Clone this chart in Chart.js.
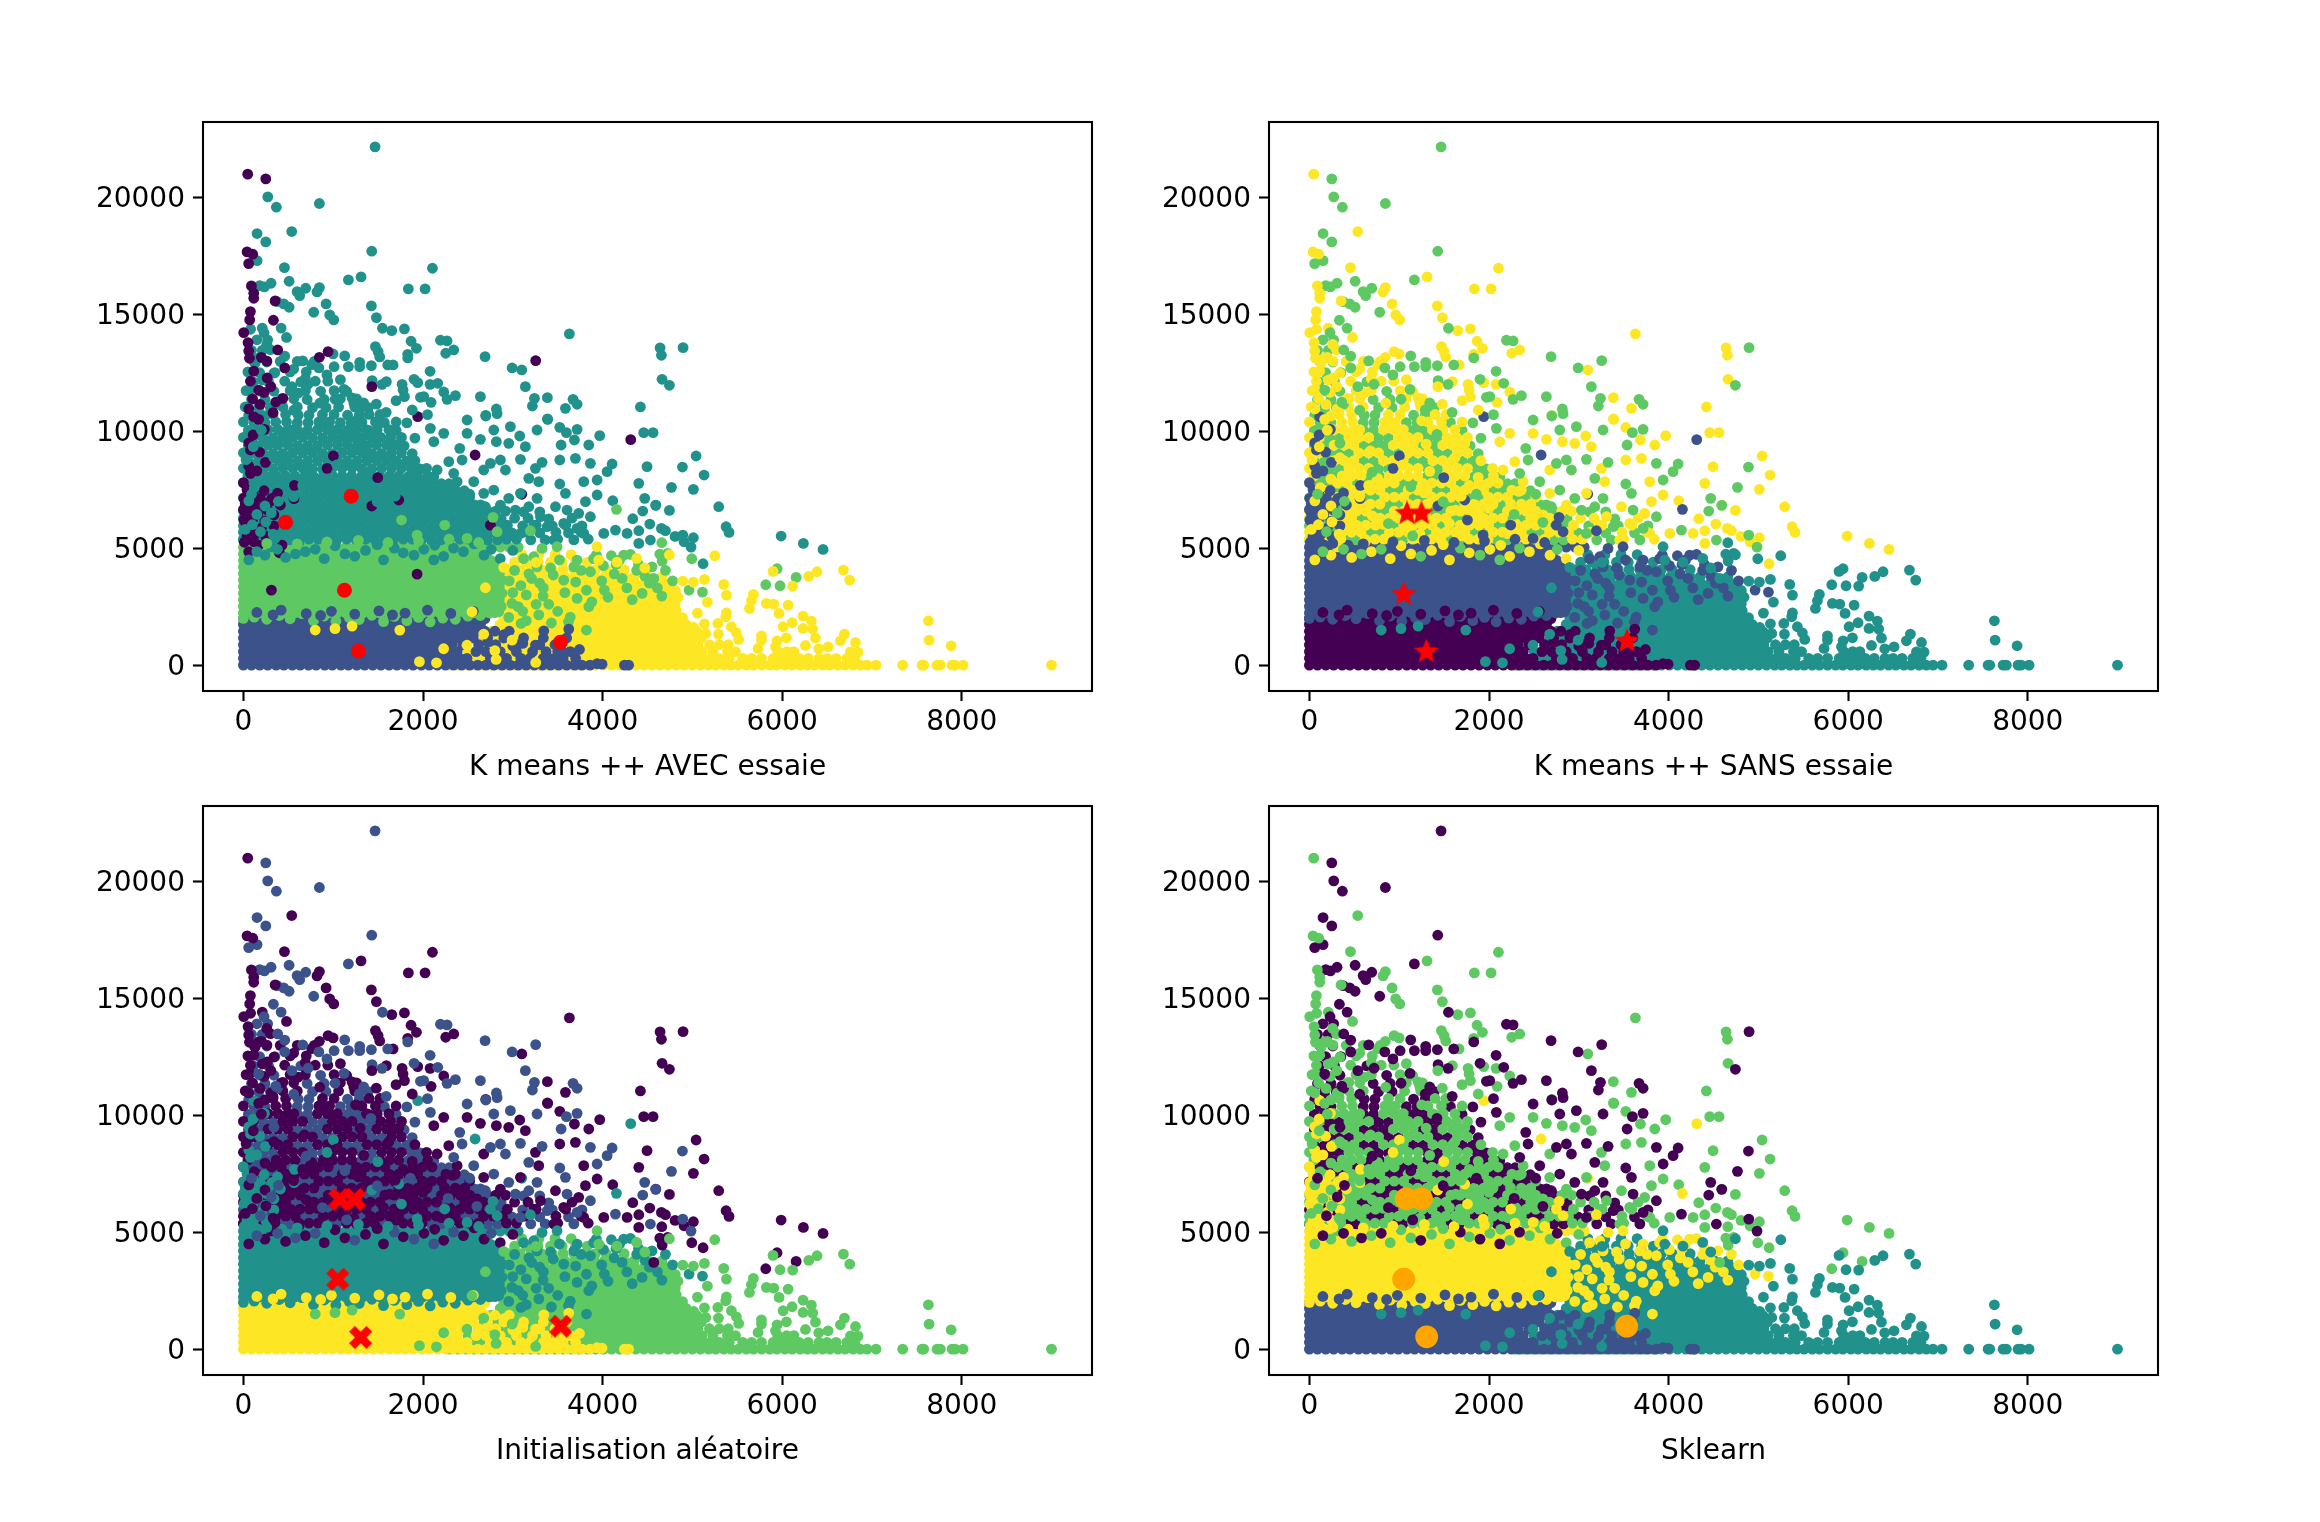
<!DOCTYPE html>
<html>
<head>
<meta charset="utf-8">
<title>K means</title>
<script src="https://cdn.jsdelivr.net/npm/chart.js@4"></script>
<style>
  body { margin: 0; background: #fff; }
  canvas { position: absolute; }
</style>
</head>
<body>
<canvas id="p0" width="1010" height="691" style="left:90px;top:100px"></canvas>
<canvas id="p1" width="1010" height="691" style="left:1156px;top:100px"></canvas>
<canvas id="p2" width="1010" height="691" style="left:90px;top:784px"></canvas>
<canvas id="p3" width="1010" height="691" style="left:1156px;top:784px"></canvas>
<script>
const xTicks = [0, 2000, 4000, 6000, 8000];
const yTicks = [0, 5000, 10000, 15000, 20000];
const titles = ['K means ++ AVEC essaie', 'K means ++ SANS essaie', 'Initialisation aléatoire', 'Sklearn'];

// centres, one list per panel
const centers0 = [[1280, 600], [1125, 3200], [470, 6100], [1200, 7220], [3530, 980]];
const centers1 = [[1303, 570], [1050, 3020], [1087, 6480], [1247, 6480], [3537, 1025]];
const centers2 = [[1306, 500], [1050, 2990], [1073, 6400], [1236, 6400], [3534, 983]];
const centers3 = [[1306, 527], [1050, 2990], [1078, 6424], [1248, 6424], [3534, 983]];

// dense bands, read as rows: [y, [x, x, ...]]
const lowRows = [
  [0, [0,90,182,270,365,450,545,632,725,810,905,990,1085,1170,1262,1350,1440,1530,1622,1710,1800,1890,1982,2070,2160,2250,2340,2430,2520,2610,2700,2790,2880,2970,3060,3150,3240,3330,3420,3510,3600,3690,3770,3860]],
  [290, [0,44,135,226,318,408,498,590,680,770,860,950,1040,1130,1220,1310,1400,1490,1580,1670,1760,1850,1940,2030,2120,2210,2300,2410,2490,2750,2930,3090,3190,3340,3470,3560,3700]],
  [580, [0,90,180,272,362,454,544,636,726,818,908,1000,1090,1180,1272,1362,1454,1544,1636,1726,1818,1908,2000,2090,2180,2270,2380,2590,2700,2860,3040,3220,3370,3500,3640]],
  [870, [0,46,136,228,318,410,500,592,682,774,864,956,1046,1138,1228,1320,1410,1502,1592,1684,1774,1866,1956,2048,2138,2230,2320,2440,2620,2810,3050,3300,3470]],
  [1160, [0,92,182,274,364,456,546,638,728,820,910,1002,1092,1184,1274,1366,1456,1548,1638,1730,1820,1912,2002,2094,2184,2276,2366,2460,2560,2720,2900,3120,3340,3600]],
  [1450, [0,46,138,228,320,410,502,592,684,774,866,956,1048,1138,1230,1320,1412,1502,1594,1684,1776,1866,1958,2048,2140,2230,2322,2412,2504,2594,2690,2800,2960]],
  [1740, [0,92,182,274,364,456,546,638,728,820,910,1002,1092,1184,1274,1366,1456,1548,1638,1730,1820,1912,2002,2094,2184,2276,2366,2458,2548,2640]],
  [1990, [0,46,138,228,320,410,502,592,684,774,866,956,1048,1138,1230,1320,1412,1502,1594,1684,1776,1866,1958,2048,2140,2230,2322,2412,2504,2594,2690]]
];
const lowScatter = [[3345,1468],[3623,1539],[3252,855],[3111,926],[3742,670],[3994,43],[3938,60],[4243,0],[4290,0],[3400,300],[3560,560],[2900,1300],[3000,820],[2720,980],[150,2250],[420,2350],[700,2200],[980,2300],[1240,2180],[1510,2320],[1800,2220],[2050,2350],[2310,2210],[2560,2300],[330,2150],[860,2120],[1660,2150]];

const midRows = [
  [2230, [0,95,190,286,380,476,570,666,760,856,950,1046,1140,1236,1330,1426,1520,1616,1710,1806,1900,1996,2090,2186,2280,2376,2470,2566,2660,2740]],
  [2510, [0,46,142,236,332,426,522,616,712,806,902,996,1092,1186,1282,1376,1472,1566,1662,1756,1852,1946,2042,2136,2232,2326,2422,2516,2612,2706,2800,2870]],
  [2790, [0,95,190,286,380,476,570,666,760,856,950,1046,1140,1236,1330,1426,1520,1616,1710,1806,1900,1996,2090,2186,2280,2376,2470,2566,2660,2756,2850]],
  [3070, [0,46,142,236,332,426,522,616,712,806,902,996,1092,1186,1282,1376,1472,1566,1662,1756,1852,1946,2042,2136,2232,2326,2422,2516,2612,2706,2800,2880]],
  [3350, [0,95,190,286,380,476,570,666,760,856,950,1046,1140,1236,1330,1426,1520,1616,1710,1806,1900,1996,2090,2186,2280,2376,2470,2566,2660,2756,2850]],
  [3630, [0,46,142,236,332,426,522,616,712,806,902,996,1092,1186,1282,1376,1472,1566,1662,1756,1852,1946,2042,2136,2232,2326,2422,2516,2612,2706,2800,2880]],
  [3910, [0,95,190,286,380,476,570,666,760,856,950,1046,1140,1236,1330,1426,1520,1616,1710,1806,1900,1996,2090,2186,2280,2376,2470,2566,2660,2756,2850]],
  [4190, [0,46,142,236,332,426,522,616,712,806,902,996,1092,1186,1282,1376,1472,1566,1662,1756,1852,1946,2042,2136,2232,2326,2422,2516,2612,2706,2800]],
  [4470, [0,95,190,286,380,476,570,666,760,856,950,1046,1140,1236,1330,1426,1520,1616,1710,1806,1900,1996,2090,2186,2280,2376,2470,2566,2660,2756]],
  [4750, [0,46,142,236,332,426,522,616,712,806,902,996,1092,1186,1282,1376,1472,1566,1662,1756,1852,1946,2042,2136,2232,2326,2422,2516,2612,2706]],
  [5040, [0,95,190,286,380,476,570,666,760,856,950,1046,1140,1236,1330,1426,1520,1616,1710,1806,1900,1996,2090,2186,2280,2376,2470,2566,2660,2760,2860,2960,3060]]
];
// scalloped rims of the middle band and its stray dots
const midScatter = [[0,2000],[120,2050],[260,1960],[400,2120],[520,1980],[650,2200],[780,1900],[900,2100],[1030,1880],[1180,2030],[1290,1950],[1430,2130],[1560,1860],[1680,2080],[1820,1900],[1950,2040],[2080,1850],[2220,2010],[2360,1960],[2500,2090],[2640,2120],[2800,2240],[260,5200],[600,5180],[930,5260],[1280,5330],[1610,5240],[1950,5300],[2290,5380],[2620,5240],[3337,2950],[3846,2494],[3716,2850],[4020,3206],[4098,4674],[4235,4703],[4310,4731],[3092,1781],[2955,2038],[2843,2280],[2669,2394],[3233,4631],[3567,3634],[3716,4489],[3864,3990],[4217,3705],[4440,3064],[3326,4988],[3493,5059],[1760,6199],[2242,5985],[2780,6313],[3196,5743],[4154,6655],[2825,5700],[2491,5415],[1934,5557],[4963,3206],[5112,3121],[3090,3400],[3180,3900],[3500,2300],[4010,4250],[4520,3500],[4660,2950],[3000,3100],[3300,3500],[3420,4150],[3680,4200],[3900,4550],[4150,4300],[4380,4050],[3260,2600],[2990,2640],[2960,3600],[3020,4050],[3110,2300],[3150,3000],[3210,3700],[3270,4200],[3340,3300],[3400,2600],[3450,3850],[3520,4500],[3580,3100],[3640,2050],[3700,3550],[3760,4050],[3820,3200],[3880,2700],[3930,4700],[3990,3600],[4060,2900],[4130,3900],[4190,4500],[4270,3300],[4330,2800],[4400,4300],[4470,3800],[4550,4200],[4610,3300],[4700,4050],[4780,3600],[3060,2500],[3150,1900],[3290,2150],[3430,1800],[3120,4550],[3620,1850],[3820,1500]];

const rightRows = [
  [0, [2300,2390,2480,2570,2660,2750,2840,2930,3020,3110,3200,3290,3380,3470,3560,3650,3740,3830,3920,4010,4100,4190,4280,4370,4460,4550,4640,4730,4820,4910,5000,5090,5180,5260,5350,5430,5510,5600,5680,5770,5860,5940,6030,6110,6200,6280,6360,6450,6530,6620,6700,6790,6870,6945,7045,7342,7558,7576,7725,7761,7892,7925,8014,8999]],
  [290, [2400,2490,2580,2670,2760,2850,2940,3030,3120,3210,3300,3390,3480,3570,3660,3750,3840,3930,4020,4110,4200,4290,4380,4470,4560,4650,4740,4830,4920,5010,5100,5200,5300,5410,5560,5660,5770,5900,6000,6090,6190,6290,6410,6500,6600,6720,6810]],
  [580, [2500,2590,2680,2770,2860,2950,3040,3130,3220,3310,3400,3490,3580,3670,3760,3850,3940,4030,4120,4210,4300,4390,4480,4570,4660,4750,4840,4930,5020,5110,5230,5390,5480,5950,6050,6130]],
  [870, [2620,2710,2800,2890,2980,3070,3160,3250,3340,3430,3520,3610,3700,3790,3880,3970,4060,4150,4240,4330,4420,4510,4600,4690,4780,4870,4960,5060,5190,5300,5400]],
  [1160, [2680,2770,2860,2950,3040,3130,3220,3310,3400,3490,3580,3670,3760,3850,3940,4030,4120,4210,4300,4390,4480,4570,4660,4750,4840,4930,5020,5100]],
  [1450, [2760,2850,2940,3030,3120,3210,3300,3390,3480,3570,3660,3750,3840,3930,4020,4110,4200,4290,4380,4470,4560,4650,4740,4830,4920,5000]],
  [1740, [2860,2950,3040,3130,3220,3310,3400,3490,3580,3670,3760,3850,3940,4030,4120,4210,4300,4390,4480,4570,4660,4750,4840,4930]],
  [2030, [2900,2990,3100,3190,3280,3370,3460,3550,3640,3730,3820,3910,4000,4090,4180,4270,4360,4450,4540,4630,4720,4810,4890]],
  [2320, [2950,3060,3160,3250,3340,3440,3550,3650,3740,3830,3920,4010,4100,4190,4280,4370,4460,4550,4640,4730,4820]],
  [2610, [2920,3020,3120,3220,3320,3420,3520,3620,3720,3820,3910,4000,4090,4180,4270,4360,4450,4540,4630,4720,4810]],
  [2900, [2960,3060,3160,3260,3360,3460,3560,3660,3760,3860,3950,4040,4130,4220,4310,4400,4490,4580,4670,4760,4840]],
  [3190, [2920,3020,3120,3220,3320,3420,3520,3620,3720,3820,3920,4020,4120,4220,4320,4420,4520,4620,4720,4810]],
  [3480, [2960,3060,3160,3260,3360,3460,3560,3660,3760,3860,3960,4060,4160,4260,4360,4460,4560,4660,4740]],
  [3770, [2920,3030,3140,3250,3360,3470,3580,3690,3800,3910,4020,4130,4240,4350,4510,4660]],
  [4080, [2960,3080,3200,3320,3440,3560,3680,3800,3920,4040,4240]],
  [4400, [3020,3150,3280,3420,3550,3700,3830,3970]],
  [4720, [3100,3290,3470,3650]]
];
const rightScatter = [[7628,1895],[7636,1069],[7881,827],[6845,556],[6760,570],[6816,969],[6693,1325],[6648,1040],[6511,784],[6407,698],[6259,841],[6370,1154],[6232,1567],[6340,1539],[6325,1881],[6232,2095],[6110,1810],[6010,1639],[6047,1168],[5943,1040],[5925,784],[5769,1254],[5769,1069],[5731,712],[5434,1639],[5490,1382],[5516,1097],[5290,1325],[5149,1354],[5052,1425],[5015,1610],[5134,1767],[5283,1781],[5379,2235],[5371,2066],[5056,2223],[5167,2693],[5379,2992],[5349,3448],[5134,3662],[5011,3548],[4893,3591],[5679,3021],[5657,2750],[5635,2422],[5824,2636],[5906,2607],[6066,2565],[5965,2209],[6117,3377],[6296,3790],[6388,3990],[6682,4061],[6752,3634],[5898,4004],[5249,4674],[4744,4717],[2814,242],[3255,114],[2992,1069],[2676,1325],[1741,1496],[1210,1667],[2546,2280],[2695,3306],[2899,4175],[3259,4389],[3938,5059],[3957,4489],[1960,150],[2150,100],[1020,1560],[800,1500],[2230,700],[2490,850],[2800,620],[4160,4400],[4470,4150],[4380,4560]];
const purpleGreen = [[5943,4118],[6155,3748],[5817,3434],[4993,4546],[4659,5230],[4637,4745],[4663,4446],[4725,4774],[4570,3705]];
const greenTeal = [[5976,3391]];

// upper cloud, two families mixed in runs along each row
const upperRowsA = [
  [5350, [0,100,410,520,940,1040,1570,1670,2090,2200,2720,2830,3200,3360,3680]],
  [5650, [50,155,260,680,785,1205,1310,1835,1940,2465,2570,2990,3300,3620]],
  [5950, [0,105,210,315,840,945,1470,1575,2100,2205,2730,2835,3110,3440,3770]],
  [6250, [50,155,575,680,1100,1205,1625,1730,2255,2360,2780,2870,3400]],
  [6550, [105,210,315,735,840,1365,1470,1995,2100,2625,2730,3120,3300]],
  [6850, [155,260,365,890,995,1520,1625,2150,2255,2570,2640]],
  [7150, [0,105,630,735,1155,1260,1785,1890,2310,2415]],
  [7450, [50,260,365,890,995,1415,1520,2045,2150,2460]],
  [7750, [105,210,525,630,1050,1155,1680,1785,2205,2290]],
  [8050, [155,260,680,785,1310,1415,1835,1940,2120]],
  [8380, [110,220,330,770,880,1320,1430,1870,1970]],
  [8710, [55,165,605,715,1155,1265,1705,1815]],
  [9040, [220,330,440,880,990,1430,1540,1880]],
  [9370, [55,165,605,715,825,1265,1375,1790]],
  [9700, [220,330,770,880,1320,1430,1910]],
  [10030, [55,165,605,715,1155,1265,1700]],
  [10360, [120,240,600,720,1080,1200,1570]],
  [10680, [60,200,610,730,1160,1290]],
  [11000, [170,300,770,920,1390]],
  [11350, [90,240,710,900]],
  [11700, [190,340,860]],
  [12100, [110,280,640]],
  [12500, [180,350]],
  [12950, [120,260]],
  [13450, [90,210]],
  [13900, [150,270]]
];
const upperRowsD = [
  [5380, [0,200,310,620,730,830,1150,1250,1360,1460,1780,1880,1990,2300,2410,2510,2620,2930,3040,3500,3840]],
  [5680, [0,365,470,575,890,995,1100,1415,1520,1625,1730,2045,2150,2255,2360,2675,2780,2885,3130,3480,3760]],
  [5980, [420,525,630,735,1050,1155,1260,1365,1680,1785,1890,1995,2310,2415,2520,2625,2940,3260,3590]],
  [6280, [0,260,365,470,785,890,995,1310,1415,1520,1835,1940,2045,2150,2465,2570,2675,3020,3170,3660]],
  [6580, [0,420,525,630,945,1050,1155,1260,1575,1680,1785,1890,2205,2310,2415,2520,2810,2920]],
  [6880, [50,470,575,680,785,1100,1205,1310,1415,1730,1835,1940,2045,2360,2465]],
  [7180, [210,315,420,525,840,945,1050,1365,1470,1575,1680,1995,2100,2205,2520]],
  [7480, [155,470,575,680,785,1100,1205,1310,1625,1730,1835,1940,2255,2360]],
  [7780, [0,315,420,735,840,945,1260,1365,1470,1575,1890,1995,2100]],
  [8080, [50,365,470,575,890,995,1100,1205,1520,1625,1730,2050]],
  [8410, [0,440,550,660,990,1100,1210,1540,1650,1760,2040]],
  [8740, [275,385,495,825,935,1045,1375,1485,1595,1910]],
  [9070, [0,110,550,660,770,1100,1210,1320,1650,1760]],
  [9400, [275,385,495,935,1045,1155,1485,1595,1690]],
  [9730, [0,110,440,550,660,990,1100,1210,1530,1640,1760]],
  [10060, [275,385,495,825,935,1045,1370,1490,1620]],
  [10390, [0,360,480,840,960,1320,1470,1700]],
  [10710, [330,470,880,1010,1400,1520]],
  [11030, [20,440,600,1060,1240]],
  [11380, [420,560,1080,1260]],
  [11730, [30,520,690,1010]],
  [12130, [460,800,940]],
  [12530, [50,520,700]],
  [12980, [410,600]],
  [13480, [300]]
];
const upperDots = [[1466,22145],[271,20007],[367,19565],[846,19722],[152,18440],[249,18083],[152,17285],[1429,17684],[509,16402],[1169,16459],[182,16217],[234,16160],[308,16316],[694,16102],[598,15960],[627,15789],[375,15533],[449,15433],[509,15290],[783,15077],[1548,14393],[2194,13880],[2268,13851],[2691,13181],[2992,12697],[3140,11899],[3241,11400],[3218,11072],[3671,11357],[3716,11144],[2639,11471],[2817,10944],[2825,10745],[1128,13210],[1295,12939],[1295,12754],[1169,12754],[1425,12797],[1607,12825],[2079,12554],[1900,12212],[2164,12041],[2268,11357],[2361,11514],[1971,11443],[2008,11471],[1433,12155],[1544,11998],[1830,13124],[4889,8464],[4767,7595],[4893,5557],[4985,5044],[4592,6826],[2082,10118],[2409,9263],[2491,10474],[2699,10645],[2788,10046],[2973,10189],[3270,10046],[3597,9932],[3716,10075],[3538,9405],[4469,7125],[4447,6584],[3939,7909],[4050,8265],[4106,8593],[3523,7738],[3864,8621],[3326,8664],[3085,8792],[2751,8621],[2862,8764],[2918,8336],[2342,8194],[2435,8764],[2565,7838],[3178,7980],[3586,7339],[3270,7125],[2955,7125],[2788,7481],[2695,6769],[3029,6626],[3178,6769],[3604,6626],[3864,6341],[3382,5914],[3716,5843],[3085,5629],[4143,5771],[4532,5344],[340,9480],[700,8250],[1130,7620],[1490,6980],[1860,7300],[2280,6440],[880,6050],[1420,9860],[560,10890],[1020,11360],[2520,7300],[2600,6100],[1150,5520],[150,4850],[380,4950],[800,4950],[1240,4650],[1680,5000],[1900,4700],[2340,5000],[2760,4950],[580,4750],[2120,4500],[190,5700],[310,6500],[90,7300],[390,7000],[540,11900],[380,11150],[720,12000],[930,12400],[1120,11780],[1340,11200],[1590,10800],[1820,10350],[2050,10700],[1290,10900],[460,13200],[840,12700],[660,13000],[1010,12750],[230,14200],[420,14400]];
const upperDots2 = [[538,18525],[457,16986],[1310,16587],[2105,16957],[1837,16074],[2023,16074],[846,16131],[820,15946],[921,15433],[961,14962],[1006,14749],[1425,15347],[1481,14848],[1652,14293],[1793,14364],[3630,14150],[2342,13466],[2253,13324],[1867,13837],[1927,13537],[1830,13281],[1470,13609],[1500,13395],[1518,13167],[3100,12611],[3385,11429],[3586,10972],[4421,11030],[2699,10673],[3385,10516],[999,13295],[1667,12825],[1592,12112],[1941,12070],[2079,11998],[2231,11671],[2090,11229],[1767,11998],[1778,11756],[1793,11471],[4640,13552],[4655,13238],[4662,12212],[4562,9932],[5041,8935],[5130,8122],[5011,7510],[5293,6769],[5375,5914],[5408,5671],[5988,5515],[6236,5201],[6455,4945],[5119,4332],[4655,5842],[4700,5743],[4807,5500],[5011,5444],[4907,5272],[4744,6612],[2231,9904],[2120,9548],[2491,9904],[2639,9647],[2817,9548],[2955,9476],[3077,9790],[3140,9334],[3389,10502],[3523,10160],[3686,9619],[3846,9405],[3968,9804],[4458,9932],[4495,8479],[4403,7766],[4592,6840],[4336,6256],[4525,6028],[4403,5743],[4113,7025],[3939,7268],[3790,7838],[3697,8835],[3523,8764],[3252,8408],[2676,8336],[2287,8693],[2157,8336],[2380,7838],[3289,7838],[3475,6769],[3085,7339],[2676,7339],[2862,6840],[3308,6341],[3734,6484],[3809,6983],[3567,6056],[3233,5985],[3456,5344],[3790,5629],[4013,5629],[4273,5629],[4403,5201],
  [330,5600],[620,5250],[1230,5600],[1700,5520],[2210,5620],[250,6120],[820,6020],[1180,6100],[1560,6050],[1900,6110],[2290,6070],[150,6440],[700,6380],[1130,6300],[1630,6620],[2000,6700],[2600,6420],[60,7020],[560,7200],[1210,6840],[1690,7220],[2240,6900],[120,7580],[660,7680],[1280,7360],[1780,7680],[2330,7420],[240,7950],[760,7980],[1340,8280],[1880,8020],[30,8780],[340,8860],[1040,8560],[1620,8860],[110,9330],[680,9150],[1300,9440],[1730,9450],[200,10040],[560,10060],[950,10120],[1400,10020],[240,10650],[870,10340],[1250,10440],[310,10950],[850,11190],[1230,11200],[70,11760],[610,11620],[1150,11690],[210,12180],[690,12240],[1080,12200],[170,13130],[760,12840],[260,13700],[80,14350],[210,14400],[480,14000],[60,4500],[240,4700],[470,4600],[690,4850],[900,4550],[1130,4750],[1360,4900],[1560,4500],[1780,4800],[2010,4950],[2230,4650],[2450,4850],[2680,4700],[2860,4550],[3000,4900],[310,5050],[1020,5100],[1490,5150],[2130,5120],[2570,5180],[100,6000],[240,6800],[350,5400],[20,5800],[1480,11150],[1700,11300],[1880,10900],[1210,11420],[790,12980],[560,12650],[340,12480],[130,12900]];
const purpleTop = [[48,20976],[41,17655],[104,17556],[89,16202],[115,15889],[115,15675],[353,15561],[943,13395],[846,13153],[78,15105],[70,14749],[4,14207],[52,13780],[59,13423],[67,13110],[200,13150],[262,12990],[115,12560],[78,12130],[265,12270],[305,11900],[102,11380],[230,11650],[185,11140],[440,11400],[1430,11900],[60,10950],[170,10500],[330,10790]];
const purpleBlue = [[249,20776],[59,17157],[3255,13010],[334,14734],[382,13466],[460,12700],[170,11750],[360,11240]];
const purpleStrip = [[115,10616],[234,10075],[108,9832],[78,9191],[245,8664],[78,8194],[4,7125],[189,7125],[319,7125],[115,7481],[412,6840],[4,6199],[115,5272],[59,4845],[430,5130],[401,4802],[1002,8935],[932,8408],[1496,8009],[568,7681],[564,7110],[1730,7054],[1934,3890],[1941,10616],[2580,8978],[4313,9633],[312,3206],[20,6900],[70,6650],[130,6800],[210,6780],[270,6620],[340,6420],[40,7500],[0,7800],[60,8500],[30,6000],[100,6200],[40,5500],[130,5600],[200,5850],[300,5350],[60,9500],[180,9100],[150,8300],[1430,6800],[2750,5980],[3100,7300],[10,5250],[170,5130],[250,5500],[80,5850],[340,5950],[20,6500],[160,6450],[240,6150],[300,7000],[120,7150],[50,7300],[230,7450],[380,7350],[0,6650]];
const lateDots = [[4896,13566],[4744,11956]];

// colour of each point family in the four panels
const purple = '#440154', blue = '#3b528b', teal = '#21918c', green = '#5ec962', yellow = '#fde725';

const fromRows = rows => rows.flatMap(r => r[1].map(x => ({ x, y: r[0] })));
const fromDots = dots => dots.map(d => ({ x: d[0], y: d[1] }));

// drawn in this order, later ones on top
const layers = [
  [fromRows(rightRows), [yellow, teal, green, teal]],
  [fromRows(lowRows), [blue, purple, yellow, blue]],
  [fromRows(midRows), [green, blue, teal, yellow]],
  [fromRows(upperRowsA), [teal, green, blue, purple]],
  [fromRows(upperRowsD), [teal, yellow, purple, green]],
  [fromDots(purpleStrip), [purple, blue, teal, yellow]],
  [fromDots(upperDots2), [teal, yellow, purple, green]],
  [fromDots(upperDots), [teal, green, blue, purple]],
  [fromDots(lateDots), [teal, green, purple, purple]],
  [fromDots(purpleTop), [purple, yellow, purple, green]],
  [fromDots(purpleBlue), [purple, green, blue, purple]],
  [fromDots(midScatter), [green, blue, teal, yellow]],
  [fromDots(purpleGreen), [green, teal, purple, green]],
  [fromDots(greenTeal), [green, teal, green, teal]],
  [fromDots(lowScatter), [blue, purple, yellow, blue]],
  [fromDots(rightScatter), [yellow, teal, green, teal]]
];

function markerCanvas(kind, size) {
  const c = document.createElement('canvas');
  c.width = c.height = size;
  const ctx = c.getContext('2d');
  const m = size / 2;
  ctx.translate(m, m);
  ctx.fillStyle = 'red';
  ctx.beginPath();
  if (kind === 'star') {
    for (let i = 0; i < 10; i++) {
      const r = i % 2 ? m * 0.45 : m;
      const a = -Math.PI / 2 + i * Math.PI / 5;
      ctx.lineTo(r * Math.cos(a), r * Math.sin(a));
    }
  } else {
    const h = m / 2;
    const pts = [[-h,-m],[0,-h],[h,-m],[m,-h],[h,0],[m,h],[h,m],[0,h],[-h,m],[-m,h],[-h,0],[-m,-h]];
    pts.forEach(p => ctx.lineTo(p[0], p[1]));
  }
  ctx.closePath();
  ctx.fill();
  return c;
}

const centerStyles = [
  { list: centers0, color: 'red', style: 'circle', radius: 7.5 },
  { list: centers1, color: 'red', style: markerCanvas('star', 26), radius: 13 },
  { list: centers2, color: 'red', style: markerCanvas('x', 23), radius: 11.5 },
  { list: centers3, color: 'orange', style: 'circle', radius: 11.4 }
];

const frame = {
  id: 'frame',
  afterDraw(chart) {
    const a = chart.chartArea, ctx = chart.ctx;
    ctx.save();
    ctx.strokeStyle = '#000';
    ctx.lineWidth = 2.1;
    ctx.strokeRect(a.left, a.top, a.right - a.left, a.bottom - a.top);
    ctx.restore();
  }
};

const font = { family: '"DejaVu Sans"', size: 28 };

titles.forEach((title, p) => {
  const datasets = layers.map((l, i) => ({
    data: l[0],
    backgroundColor: l[1][p],
    pointRadius: 5.4,
    pointBorderWidth: 0,
    order: layers.length - i + 1
  }));
  const mark = centerStyles[p];
  datasets.push({
    data: fromDots(mark.list),
    backgroundColor: mark.color,
    pointStyle: mark.style,
    pointRadius: mark.radius,
    pointBorderWidth: 0,
    order: 0
  });
  new Chart(document.getElementById('p' + p), {
    type: 'scatter',
    data: { datasets },
    plugins: [frame],
    options: {
      responsive: false,
      animation: false,
      devicePixelRatio: 1,
      events: [],
      layout: { autoPadding: false, padding: { top: 22, right: 8 } },
      plugins: { legend: { display: false }, tooltip: { enabled: false } },
      scales: {
        x: {
          type: 'linear',
          min: -450,
          max: 9450,
          afterBuildTicks: axis => { axis.ticks = xTicks.map(value => ({ value })); },
          afterFit: axis => { axis.height = 100; axis.paddingLeft = 0; axis.paddingRight = 0; },
          ticks: { font, color: '#000', padding: 5, maxRotation: 0, callback: v => String(v) },
          grid: { drawOnChartArea: false, tickLength: 10, tickWidth: 2.1, tickColor: '#000' },
          border: { display: false },
          title: { display: true, text: title, font, color: '#000', padding: { top: 6, bottom: 6.5 } }
        },
        y: {
          type: 'linear',
          min: -1105,
          max: 23205,
          afterBuildTicks: axis => { axis.ticks = yTicks.map(value => ({ value })); },
          afterFit: axis => { axis.width = 113; axis.paddingTop = 0; axis.paddingBottom = 0; },
          ticks: { font, color: '#000', padding: 8, labelOffset: 3, callback: v => String(v) },
          grid: { drawOnChartArea: false, tickLength: 10, tickWidth: 2.1, tickColor: '#000' },
          border: { display: false }
        }
      }
    }
  });
});
</script>
</body>
</html>
